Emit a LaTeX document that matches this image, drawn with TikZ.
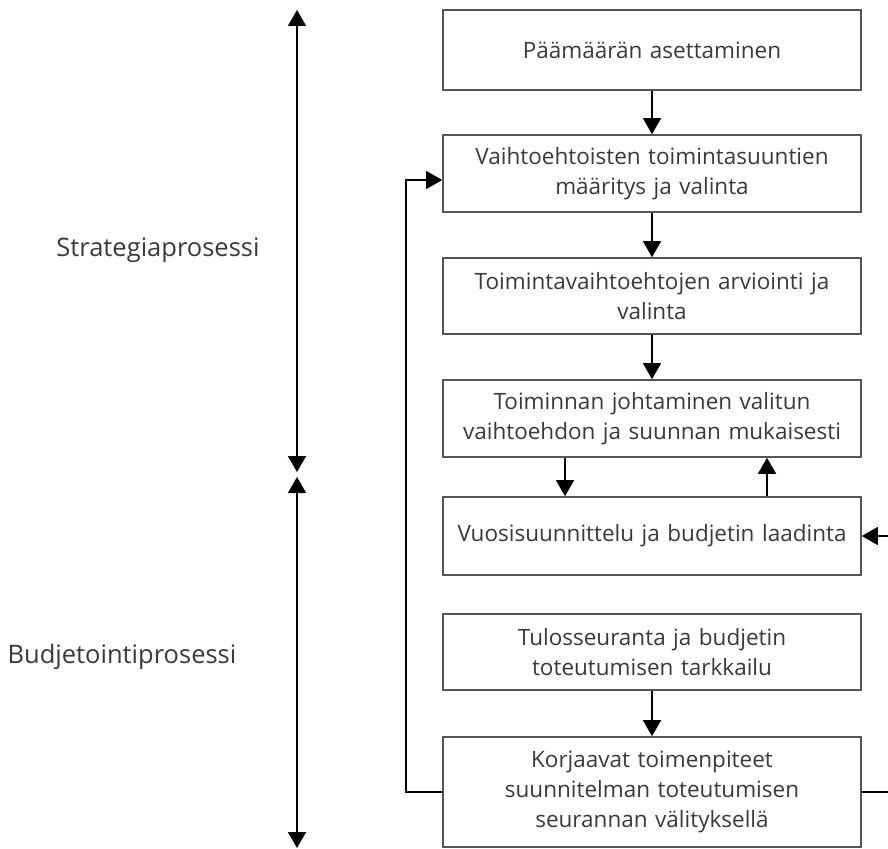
\documentclass[tikz,border=0pt]{standalone}
\usepackage{fontspec}
\setmainfont{Open Sans}
\usetikzlibrary{arrows.meta}
\definecolor{txt}{HTML}{3A3A3A}
\definecolor{edge}{HTML}{555555}
\begin{document}
\begin{tikzpicture}[x=1pt,y=-1pt,
  box/.style={draw=edge,line width=1.6pt,fill=white,minimum width=418pt,text width=416pt,align=center,inner sep=0pt,font=\fontsize{22.5}{30}\selectfont,text=txt},
  tip/.style={-{Triangle[length=16pt,width=18pt]}},
  conn/.style={draw=black,line width=1.6pt,tip},
  lbl/.style={font=\fontsize{25.5}{30}\selectfont,text=txt}]
\useasboundingbox (0,0) rectangle (888,848);
\begin{scope}
\clip (0,0) rectangle (888,848);
\node[box,minimum height=80pt] (b1) at (652,50) {Päämäärän asettaminen};
\node[box,minimum height=77pt] (b2) at (652,173.5) {Vaihtoehtoisten toimintasuuntien\\määritys ja valinta};
\node[box,minimum height=76pt] (b3) at (652,296) {Toimintavaihtoehtojen arviointi ja\\valinta};
\node[box,minimum height=77pt] (b4) at (652,418.5) {Toiminnan johtaminen valitun\\vaihtoehdon ja suunnan mukaisesti};
\node[box,minimum height=78pt] (b5) at (652,536) {Vuosisuunnittelu ja budjetin laadinta};
\node[box,minimum height=76pt] (b6) at (652,652) {Tulosseuranta ja budjetin\\toteutumisen tarkkailu};
\node[box,minimum height=110pt] (b7) at (652,792) {Korjaavat toimenpiteet\\suunnitelman toteutumisen\\seurannan välityksellä};
\draw[conn] (b1) -- (b2);
\draw[conn] (b2) -- (b3);
\draw[conn] (b3) -- (b4);
\draw[conn] (b4.south -| 565,0) -- (b5.north -| 565,0);
\draw[conn] (b5.north -| 767,0) -- (b4.south -| 767,0);
\draw[conn] (b6) -- (b7);
\coordinate (l1) at (406,792);
\coordinate (l2) at (406,180);
\draw[conn] (b7.west |- l1) -- (l1) -- (l2) -- (b2.west |- l2);
\coordinate (r1) at (900,792);
\coordinate (r2) at (900,536);
\draw[conn] (b7.east |- r1) -- (r1) -- (r2) -- (b5.east);
\coordinate (a1) at (297,10);
\coordinate (a2) at (297,472);
\coordinate (a3) at (297,477);
\coordinate (a4) at (297,848);
\draw[conn,{Triangle[length=16pt,width=18pt]}-{Triangle[length=16pt,width=18pt]}] (a2) -- (a1);
\draw[conn,{Triangle[length=16pt,width=18pt]}-{Triangle[length=16pt,width=18pt]}] (a3) -- (a4);
\end{scope}
\node[lbl] (s1) at (158,250) {Strategiaprosessi};
\node[lbl] (s2) at (122,657) {Budjetointiprosessi};
\end{tikzpicture}
\end{document}
